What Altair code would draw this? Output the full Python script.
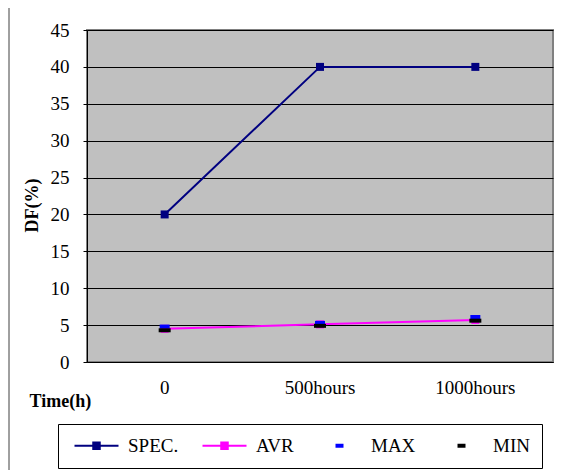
import altair as alt
import pandas as pd

categories = ["0", "500hours", "1000hours"]
spec_values = [20, 40, 40]
avr_values = [4.5, 5.1, 5.7]
max_values = [4.8, 5.3, 6.1]
min_values = [4.3, 4.9, 5.6]
series_names = ["SPEC.", "AVR", "MAX", "MIN"]
series_colors = ["#000080", "#FF00FF", "#0000FF", "#000000"]
y_ticks = [0, 5, 10, 15, 20, 25, 30, 35, 40, 45]

FONT = "Liberation Serif"

wide = pd.DataFrame({
    "time": categories,
    "SPEC.": spec_values,
    "AVR": avr_values,
    "MAX": max_values,
    "MIN": min_values,
})
long = wide.melt(id_vars="time", var_name="series", value_name="value")

x_enc = alt.X(
    "time:N",
    sort=categories,
    scale=alt.Scale(type="band", paddingInner=0, paddingOuter=0),
    axis=alt.Axis(
        title="Time(h)", labelAngle=0, ticks=False, tickSize=0, grid=False,
        labelPadding=25, labelBaseline="middle", labelFontSize=19,
        titleX=-58, titleY=39, titleAlign="left", titleBaseline="middle",
        titleFontSize=18, titleFontWeight="bold",
    ),
)
y_scale = alt.Scale(domain=[0, 45], nice=False)
y_axis = alt.Axis(
    title="DF(%)", values=y_ticks, grid=True, tickSize=4, labelPadding=14,
    labelFontSize=19, titleFontSize=18, titleFontWeight="bold",
    titleX=-46, titleY=175,
)
y_enc = alt.Y("value:Q", scale=y_scale, axis=y_axis)

base = alt.Chart(long)

def sel(name):
    return base.transform_filter(alt.datum.series == name)

spec_line = sel("SPEC.").mark_line(color="#000080", strokeWidth=2).encode(x=x_enc, y=y_enc)
avr_line = sel("AVR").mark_line(color="#FF00FF", strokeWidth=2).encode(x=x_enc, y=y_enc)
avr_pts = sel("AVR").mark_square(color="#FF00FF", size=64, opacity=1).encode(x=x_enc, y=y_enc)
spec_pts = sel("SPEC.").mark_square(color="#000080", size=64, opacity=1).encode(x=x_enc, y=y_enc)
max_pts = sel("MAX").mark_tick(color="#0000FF", size=10, thickness=4, opacity=1).encode(x=x_enc, y=y_enc)
min_pts = sel("MIN").mark_tick(color="#000000", size=12, thickness=4, opacity=1).encode(x=x_enc, y=y_enc)

line_sym = "M-1,0H7.8M2.75,-0.65H4.05V0.65H2.75Z"
dash_sym = "M-1,0M7.8,0M2.8,-0.2H4V0.2H2.8Z"
shape_range = [line_sym, line_sym, dash_sym, dash_sym]

legend = alt.Legend(
    title=None, orient="none", legendX=-29, legendY=394, direction="horizontal",
    symbolSize=100, symbolStrokeWidth=2, symbolOpacity=1,
    labelFont=FONT, labelFontSize=19, labelColor="black", labelOffset=39,
    columnPadding=19, padding=12, strokeColor="black", fillColor="white",
)
legend_layer = base.mark_point(filled=True, opacity=0).encode(
    x=x_enc,
    y=y_enc,
    fill=alt.Fill("series:N", sort=series_names,
                  scale=alt.Scale(domain=series_names, range=series_colors), legend=legend),
    stroke=alt.Stroke("series:N", sort=series_names,
                      scale=alt.Scale(domain=series_names, range=series_colors), legend=legend),
    shape=alt.Shape("series:N", sort=series_names,
                    scale=alt.Scale(domain=series_names, range=shape_range), legend=legend),
)

frame = alt.Chart(pd.DataFrame({"k": [0]})).mark_rule(color="#404040", strokeWidth=1).encode(
    x=alt.value(-78), y=alt.value(-22), y2=alt.value(448))

chart = alt.layer(
    spec_line, avr_line, avr_pts, spec_pts, max_pts, min_pts, legend_layer, frame
).properties(
    width=466, height=332,
    autosize=alt.AutoSizeParams(type="none"),
    padding={"left": 79, "top": 22, "right": 1, "bottom": 108},
    background="white",
).configure_view(
    fill="#C0C0C0", stroke="#808080", strokeWidth=2,
).configure_axis(
    labelFont=FONT, titleFont=FONT, labelColor="black", titleColor="black",
    domainColor="black", tickColor="black", gridColor="black", gridOpacity=1,
    gridWidth=1, domainWidth=1,
)

chart.save("out.html", embed_options={"renderer": "svg", "actions": False})
